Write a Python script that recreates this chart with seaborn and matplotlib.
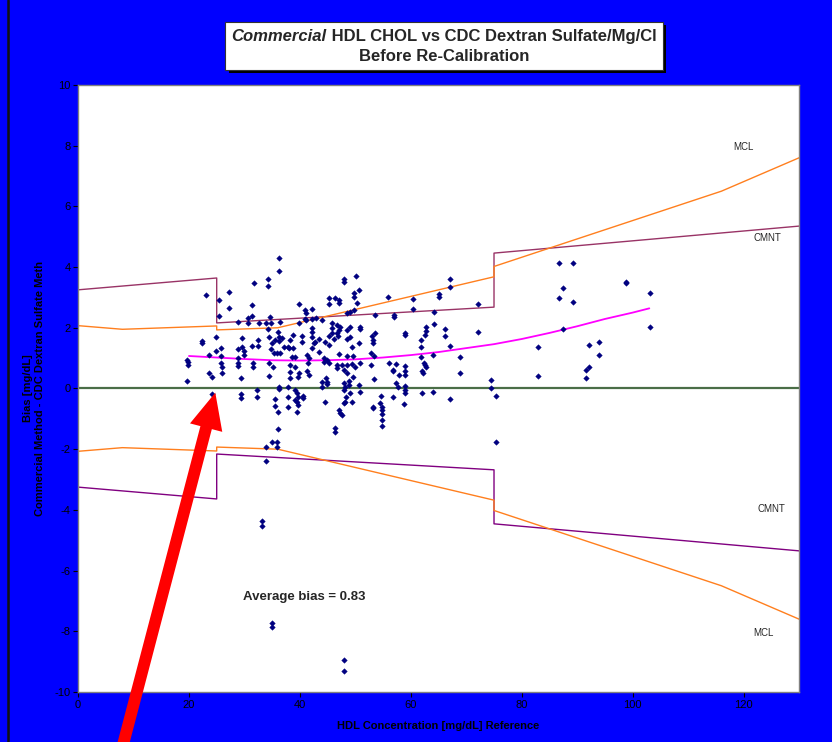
import matplotlib
matplotlib.use("Agg")
import matplotlib.pyplot as plt
import seaborn as sns
from matplotlib.patches import Rectangle, FancyArrowPatch
from matplotlib.lines import Line2D
from matplotlib import font_manager

# --- scatter: HDL reference value vs bias
hdl_ref = [
    36.2, 36.2, 34.2, 34.2, 31.7, 23.1, 27.2, 25.5, 27.2, 25.5, 31.3, 31.4, 30.7, 28.8, 30.7, 32.6,
    33.8, 34.7, 34.8, 34.2, 36.4, 36.0, 36.2, 36.2, 36.8, 35.6, 37.1, 37.8, 35.0, 34.8, 34.4, 35.3,
    35.9, 36.5, 22.4, 22.4, 24.8, 24.8, 25.7, 23.6, 25.7, 25.7, 26.0, 26.0, 23.6, 24.2, 19.7, 19.8,
    19.9, 19.7, 29.6, 28.8, 29.6, 29.9, 29.9, 28.8, 28.8, 28.8, 31.4, 32.5, 32.5, 31.6, 31.6, 29.4,
    34.4, 35.1, 34.4, 32.2, 32.2, 29.3, 29.3, 24.2, 36.2, 36.2, 35.6, 35.6, 36.0, 36.0, 34.9, 35.8,
    33.9, 35.9, 37.9, 37.9, 37.9, 38.2, 38.2, 38.2, 33.8, 33.2, 33.2, 35.0, 35.0, 47.9, 47.9,
    47.9, 47.9, 50.2, 50.6, 49.7, 49.7, 50.3, 45.2, 45.2, 46.4, 47.1, 47.1, 39.8, 41.0, 41.1, 40.9,
    41.1, 42.1, 42.1, 39.8, 42.9, 44.0, 45.8, 46.7, 45.8, 46.7, 45.8, 48.5, 49.1, 49.7, 53.6, 56.9,
    56.9, 42.1, 42.1, 42.1, 40.3, 38.7, 40.3, 43.4, 42.8, 42.5, 44.6, 45.2, 45.2, 42.2, 43.4, 46.1,
    46.9, 47.0, 47.3, 48.5, 49.1, 48.5, 49.1, 49.4, 50.9, 50.9, 50.7, 53.0, 53.1, 53.1, 53.6, 38.3,
    38.7, 38.0, 38.5, 39.1, 39.8, 39.7, 39.1, 41.3, 41.6, 41.5, 41.3, 41.7, 44.3, 44.9, 45.2, 44.3,
    47.0, 46.7, 46.7, 47.6, 48.5, 49.6, 48.5, 49.4, 49.9, 50.9, 47.9, 48.5, 49.5, 52.9, 53.3, 52.9,
    53.3, 56.0, 56.7, 39.2, 39.5, 39.7, 39.2, 39.5, 39.7, 39.5, 40.5, 40.5, 43.9, 43.9, 44.7, 44.9,
    44.9, 44.5, 47.9, 48.1, 47.9, 48.3, 48.1, 48.8, 48.8, 49.1, 49.4, 50.7, 50.9, 47.1, 47.3, 47.6,
    46.3, 46.3, 47.9, 53.1, 53.1, 54.7, 54.5, 54.8, 54.8, 54.8, 54.8, 54.8, 56.7, 55.8,
    67.0, 67.0, 65.0, 65.0, 60.4, 60.4, 64.1, 72.2, 64.1, 62.8, 62.8, 62.5, 59.0, 59.0, 61.9, 61.9,
    66.1, 66.1, 67.0, 72.2, 61.9, 64.0, 68.8, 57.4, 59.0, 59.0, 59.0, 62.3, 62.6, 62.8, 62.0, 62.2,
    56.8, 57.8, 68.8, 57.4, 57.6, 59.0, 59.0, 59.0, 58.8, 62.1, 64.0, 67.0, 74.5, 74.5, 75.3, 75.3,
    86.8, 89.2, 87.4, 86.8, 89.2, 98.8, 98.8, 103.1, 87.4, 103.1, 82.9, 82.9, 92.2, 94.0, 94.0,
    92.2, 91.6, 91.6,
]
bias = [
    4.29, 3.87, 3.60, 3.38, 3.49, 3.08, 3.17, 2.92, 2.66, 2.40, 2.75, 2.40, 2.32, 2.18, 2.15, 2.15,
    2.17, 2.35, 2.17, 1.96, 2.20, 1.87, 1.70, 1.55, 1.66, 1.60, 1.38, 1.38, 1.51, 1.29, 1.69, 1.16,
    1.16, 1.18, 1.57, 1.49, 1.69, 1.25, 1.34, 1.09, 1.07, 0.85, 0.70, 0.50, 0.52, 0.39, 0.26, 0.77,
    0.88, 0.94, 1.67, 1.30, 1.38, 1.25, 1.10, 1.00, 0.85, 0.74, 1.41, 1.60, 1.40, 0.85, 0.70, 0.34,
    0.83, 0.70, 0.41, -0.05, -0.27, -0.18, -0.32, -0.18, 0.04, -0.03, -0.35, -0.57, -0.78, -1.33, -1.78, -1.78,
    -1.94, -1.94, 0.06, -0.27, -0.60, 0.77, 0.55, 0.34, -2.38, -4.37, -4.53, -7.72, -7.85, -8.95, -9.31,
    3.60, 3.52, 3.71, 3.25, 3.14, 3.03, 2.83, 2.99, 2.77, 2.99, 2.92, 2.83, 2.78, 2.59, 2.50, 2.28,
    2.26, 2.61, 2.28, 2.17, 2.33, 2.26, 2.15, 2.09, 2.00, 1.84, 1.84, 2.50, 2.53, 2.59, 2.42, 2.42,
    2.37, 1.98, 1.87, 1.71, 1.73, 1.76, 1.52, 1.62, 1.54, 1.49, 1.54, 1.43, 1.73, 1.34, 1.21, 1.62,
    1.73, 1.93, 2.04, 1.93, 2.04, 1.62, 1.69, 1.38, 2.02, 1.95, 1.51, 1.73, 1.60, 1.51, 1.84, 1.60,
    1.32, 1.34, 1.03, 1.03, 0.50, 0.39, 0.72, 1.10, 1.00, 0.83, 0.59, 0.44, 1.00, 0.94, 0.83, 0.88,
    1.14, 0.77, 0.67, 0.77, 1.07, 1.07, 0.77, 0.81, 0.72, 0.85, 0.61, 0.50, 0.39, 1.16, 1.07, 0.77,
    0.31, 0.83, 0.61, -0.05, -0.16, -0.27, -0.38, -0.43, -0.54, -0.76, -0.24, -0.32, 0.22, 0.06, 0.34, 0.22,
    0.15, -0.45, 0.17, 0.06, -0.05, -0.27, -0.43, 0.26, 0.12, -0.16, -0.43, 0.12, -0.10, -0.71, -0.80, -0.87,
    -1.31, -1.42, -0.47, -0.60, -0.65, -0.25, -0.47, -0.60, -0.71, -0.84, -1.04, -1.24, -0.27, 3.03,
    3.60, 3.33, 3.11, 3.03, 2.95, 2.61, 2.51, 2.78, 2.13, 2.04, 1.90, 1.75, 1.84, 1.75, 1.60, 1.38,
    1.96, 1.73, 1.41, 1.87, 1.05, 1.10, 1.05, 0.81, 0.74, 0.59, 0.44, 0.85, 0.77, 0.70, 0.59, 0.52,
    0.59, 0.44, 0.50, 0.17, 0.04, 0.08, -0.05, -0.14, -0.51, -0.16, -0.12, -0.35, 0.28, 0.00, -0.25, -1.78,
    4.13, 4.13, 3.32, 2.97, 2.85, 3.52, 3.47, 3.14, 1.95, 2.04, 1.36, 0.41, 1.42, 1.53, 1.10,
    0.72, 0.61, 0.36,
]

# --- limit lines (upper halves; lower halves are mirror images)
cmnt_x = [0, 25, 25, 75, 75, 130]
cmnt_upper = [3.25, 3.64, 2.16, 2.68, 4.46, 5.35]
cmnt_lower = [-3.25, -3.64, -2.16, -2.68, -4.46, -5.35]

mcl_x = [0, 8, 25, 25, 36, 75, 75, 116, 130]
mcl_upper = [2.07, 1.95, 2.06, 1.93, 2.00, 3.68, 4.02, 6.50, 7.60]
mcl_lower = [-2.07, -1.95, -2.06, -1.93, -2.00, -3.68, -4.02, -6.50, -7.60]

# --- bias trend curve
trend_x = [20, 25, 30, 35, 40, 45, 50, 55, 60, 65, 70, 75, 80, 85, 90, 95, 100, 103]
trend_y = [1.07, 1.02, 0.97, 0.93, 0.92, 0.93, 0.96, 1.02, 1.10, 1.20, 1.33, 1.46, 1.63, 1.83, 2.05, 2.29, 2.50, 2.64]

sns.set_style("white")
names = {f.name for f in font_manager.fontManager.ttflist}
narrow = "Liberation Sans Narrow" if "Liberation Sans Narrow" in names else "Liberation Sans"
plt.rcParams["font.family"] = ["Liberation Sans", "DejaVu Sans"]
plt.rcParams["axes.unicode_minus"] = False

fig = plt.figure(figsize=(8.32, 7.42), dpi=100, facecolor="#0000ff")
ax = fig.add_axes([0.0938, 0.0674, 0.8666, 0.8181])
ax.set_facecolor("white")

sns.lineplot(x=cmnt_x, y=cmnt_upper, estimator=None, sort=False, color="#993366", lw=1.0, ax=ax)
sns.lineplot(x=cmnt_x, y=cmnt_lower, estimator=None, sort=False, color="#800080", lw=1.0, ax=ax)
sns.lineplot(x=mcl_x, y=mcl_upper, estimator=None, sort=False, color="#ff7f1e", lw=1.0, ax=ax)
sns.lineplot(x=mcl_x, y=mcl_lower, estimator=None, sort=False, color="#ff7f1e", lw=1.0, ax=ax)
ax.axhline(0, color="#4a6e47", lw=1.6, zorder=2)
sns.lineplot(x=trend_x, y=trend_y, estimator=None, sort=False, color="#ff00ff", lw=1.3, ax=ax)
sns.scatterplot(x=hdl_ref, y=bias, marker="D", s=8, color="#000080", edgecolor="#000080",
                linewidth=0.3, ax=ax, zorder=4)

ax.set_xlim(0, 130)
ax.set_ylim(-10, 10)
ax.set_xticks(range(0, 121, 20))
ax.set_yticks(range(-10, 11, 2))
ax.tick_params(direction="out", length=3.5, width=0.8, labelsize=8, color="black",
               labelcolor="black", bottom=True, left=True, pad=2)
for s in ax.spines.values():
    s.set_color("#808080")
    s.set_linewidth(1.0)

# labels in the plot
ax.text(120, 7.95, "MCL", fontsize=7, ha="center", va="center")
ax.text(124.3, 4.95, "CMNT", fontsize=7, ha="center", va="center")
ax.text(125, -3.97, "CMNT", fontsize=7, ha="center", va="center")
ax.text(123.6, -8.06, "MCL", fontsize=7, ha="center", va="center")
ax.text(29.8, -6.87, "Average bias = 0.83", fontsize=9.5, fontweight="bold", ha="left", va="center")

# axis labels
fig.text(0.5264, 0.0216, "HDL Concentration [mg/dL] Reference", family=narrow,
         fontsize=8, fontweight="bold", color="black", ha="center", va="center")
fig.text(28 / 832, 0.4764, "Bias [mg/dL]", family=narrow, fontsize=8, fontweight="bold",
         color="black", rotation=90, ha="center", va="center")
fig.text(40 / 832, 0.4764, "Commercial Method - CDC Dextran Sulfate Meth", family=narrow,
         fontsize=8, fontweight="bold", color="black", rotation=90, ha="center", va="center")

# left border line
fig.add_artist(Line2D([8 / 832, 8 / 832], [0, 1], transform=fig.transFigure, color="#111111", lw=1.8))

# title box with shadow
W, H = 832, 742
fig.add_artist(Rectangle((229 / W, 1 - 73 / H), 437 / W, 48 / H, transform=fig.transFigure,
                         facecolor="black", edgecolor="none"))
fig.add_artist(Rectangle((225 / W, 1 - 70 / H), 438 / W, 48 / H, transform=fig.transFigure,
                         facecolor="white", edgecolor="#333333", lw=0.8))
t1 = fig.text(232 / W, 1 - 41 / H, "Commercial", fontsize=12, fontweight="bold",
              style="italic", ha="left", va="baseline")
t2 = fig.text(0, 1 - 41 / H, " HDL CHOL vs CDC Dextran Sulfate/Mg/Cl", fontsize=12, fontweight="bold",
              ha="left", va="baseline")
fig.canvas.draw()
bb1 = t1.get_window_extent()
bb2 = t2.get_window_extent()
total = bb1.width + bb2.width
x0 = 444 - total / 2
t1.set_position((x0 / W, 1 - 41 / H))
t2.set_position(((x0 + bb1.width) / W, 1 - 41 / H))
fig.text(444 / W, 1 - 61 / H, "Before Re-Calibration", fontsize=12, fontweight="bold",
         ha="center", va="baseline")

# red arrow pointing at the zero line
arrow = FancyArrowPatch((119 / W, 1 - 760 / H), (216 / W, 1 - 390 / H), transform=fig.transFigure,
                        arrowstyle="simple,head_length=26,head_width=24,tail_width=8.5",
                        mutation_scale=1, color="#ff0000", lw=0, zorder=10)
fig.add_artist(arrow)

fig.savefig("out.png", dpi=100, facecolor=fig.get_facecolor())
